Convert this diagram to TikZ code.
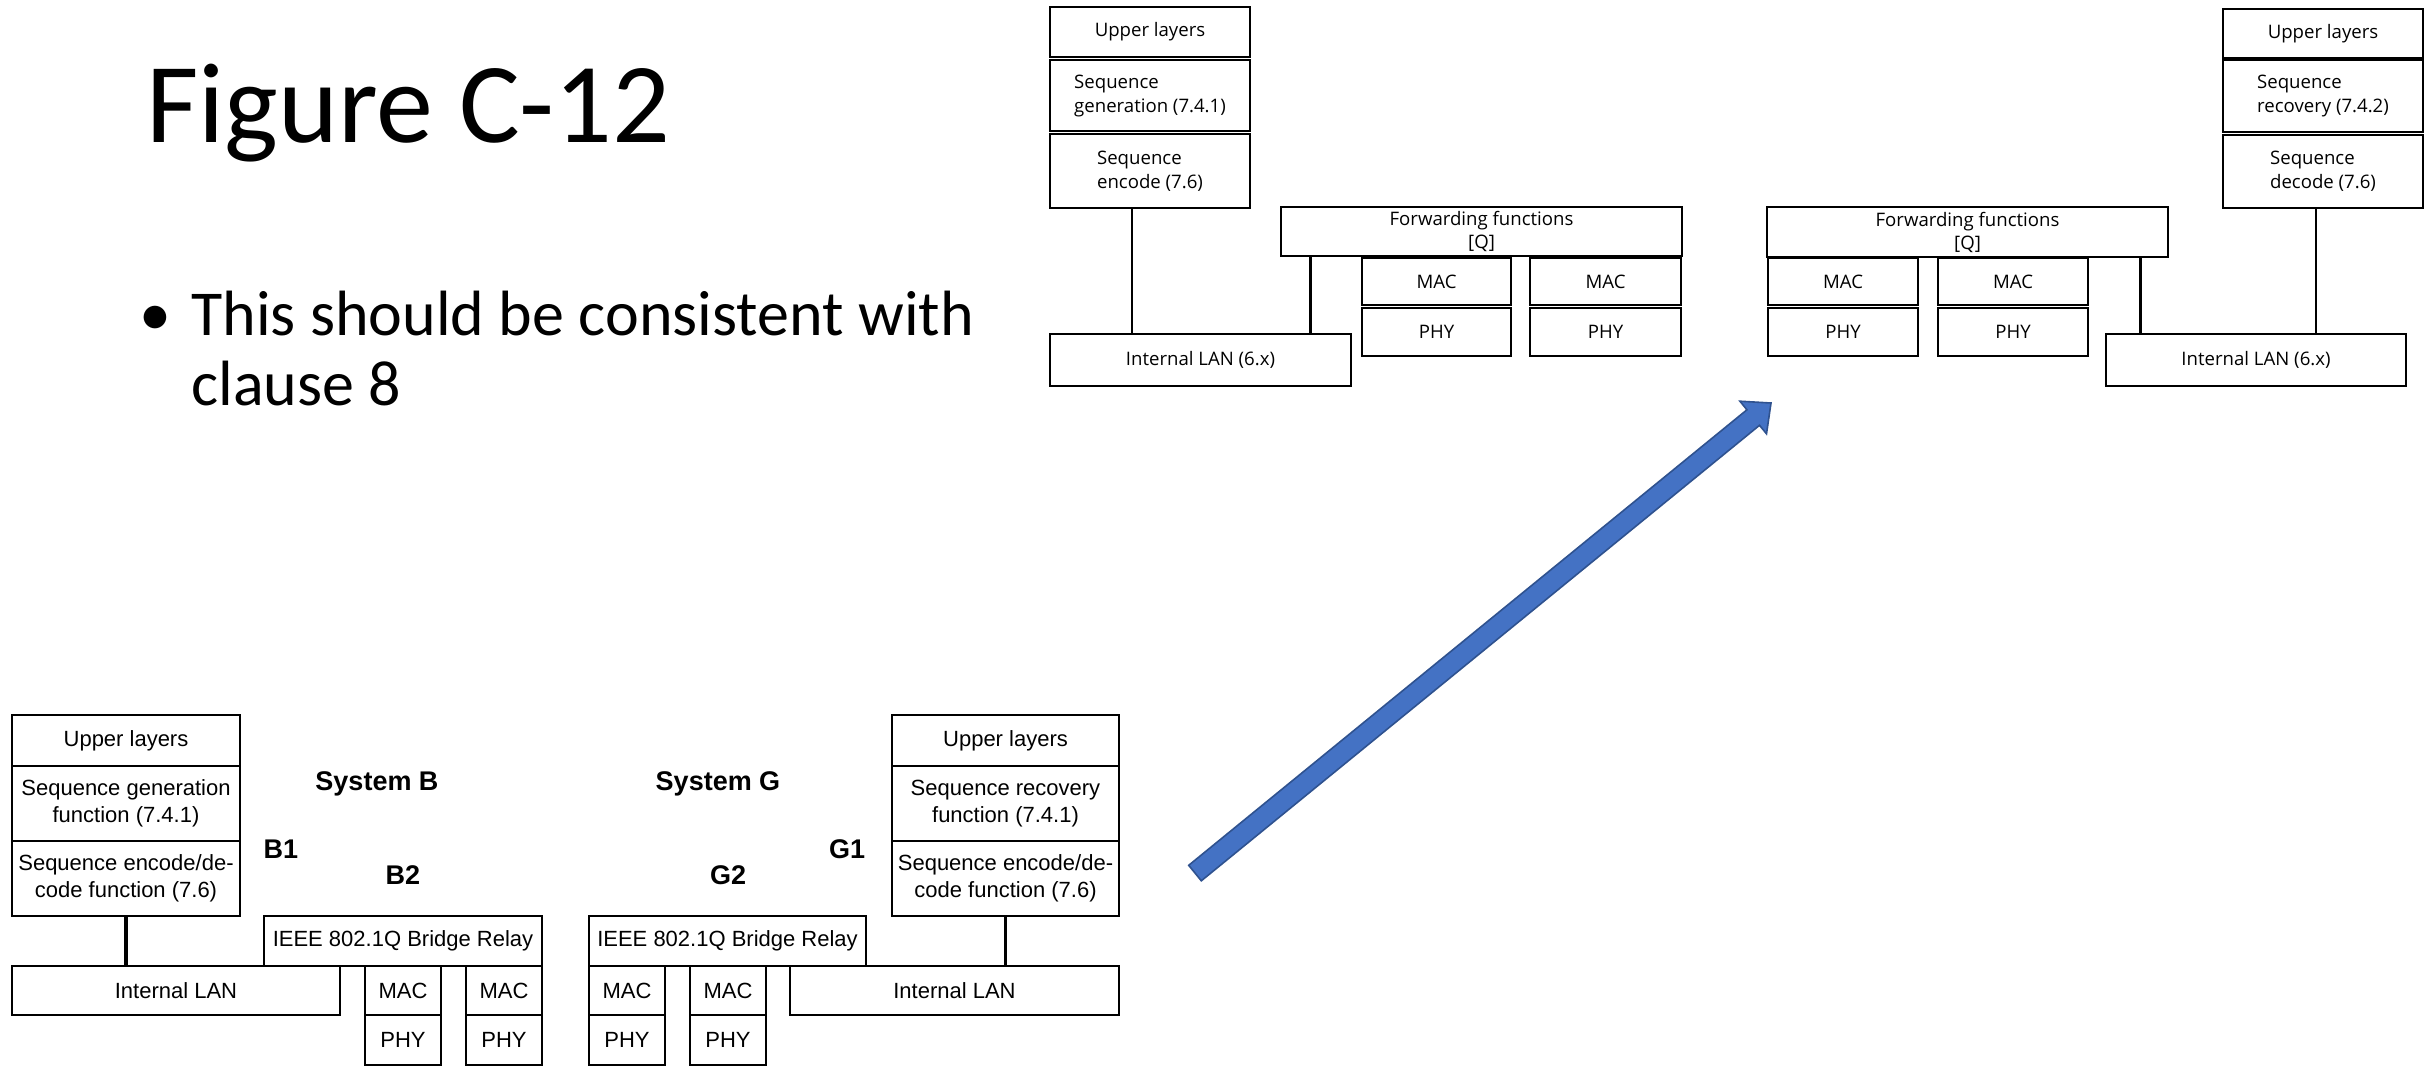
\documentclass[tikz,border=0pt]{standalone}
\usepackage{fontspec}
\setmainfont{Carlito}
\newfontfamily\slidefont{Carlito}
\newfontfamily\stdfont{Open Sans}
\newfontfamily\arialfont{Liberation Sans}
\definecolor{arrowfill}{HTML}{4472C4}
\definecolor{arrowedge}{HTML}{2F528F}

% \pbox{style}{name}{x1}{y1}{x2}{y2}{text}: a box spanning two corners (units of half a point)
\newcommand\pbox[7]{\node[inner sep=0pt, #1,
    minimum width={(#5-#3)*0.5pt}, minimum height={(#6-#4)*0.5pt}]
    (#2) at ({(#3+#5)/2},{(#4+#6)/2}) {#7};}

\begin{document}
\begin{tikzpicture}[x=0.5pt, y=-0.5pt,
  stdbox/.style={draw, line width=1.3pt, align=center,
    font=\stdfont\fontsize{9.3}{12}\selectfont},
  stdleft/.style={stdbox, align=left},
  stdline/.style={line width=1.3pt},
  relbox/.style={draw, line width=0.6pt, align=center,
    font=\arialfont\fontsize{11}{13.4}\selectfont},
  relline/.style={line width=1.6pt},
  syslabel/.style={font=\arialfont\bfseries\fontsize{13.5}{16}\selectfont,
    inner sep=0pt, anchor=base},
  slidetext/.style={inner sep=0pt, anchor=base west, align=left},
]
\useasboundingbox (0,0) rectangle (2430,1066);

% ---- slide heading and bullet
\node[slidetext, font=\slidefont\fontsize{57}{60}\selectfont] (title) at (146,142) {Figure C-12};
\node[inner sep=0pt, anchor=base, font=\slidefont\fontsize{32}{35}\selectfont] (dot) at (155,335) {\textbullet};
% the base of a two-line node is the baseline of its last line
\node[slidetext, font=\slidefont\fontsize{32}{35}\selectfont] (point) at (191,405)
  {This should be consistent with\\clause 8};

% ---- sending end station (top)
\pbox{stdbox}{upA}{1050}{7}{1250}{57}{Upper layers}
\pbox{stdleft}{genA}{1050}{60}{1250}{131}{Sequence\\generation (7.4.1)}
\pbox{stdleft}{encA}{1050}{134}{1250}{208}{Sequence\\encode (7.6)}
\pbox{stdbox}{lanA}{1050}{334}{1351}{386}{Internal LAN (6.x)}
\pbox{stdbox, font=\stdfont\fontsize{9.3}{11.5}\selectfont}{fwdA}{1281}{207}{1682}{256}{Forwarding functions\\{[Q]}}
\pbox{stdbox}{macA1}{1362}{258}{1511}{305}{MAC}
\pbox{stdbox}{phyA1}{1362}{308}{1511}{356}{PHY}
\pbox{stdbox}{macA2}{1530}{258}{1681}{305}{MAC}
\pbox{stdbox}{phyA2}{1530}{308}{1681}{356}{PHY}
\draw[stdline] ([xshift=-9pt]encA.south) -- ([xshift=-9pt]encA.south |- lanA.north);
\draw[stdline] ([xshift=15.5pt]fwdA.south west) -- ([xshift=15.5pt]fwdA.south west |- lanA.north);

% ---- receiving end station (top)
\pbox{stdbox}{upB}{2223}{9}{2423}{58}{Upper layers}
\pbox{stdleft}{recB}{2223}{60}{2423}{132}{Sequence\\recovery (7.4.2)}
\pbox{stdleft}{decB}{2223}{135}{2423}{208}{Sequence\\decode (7.6)}
\pbox{stdbox}{lanB}{2106}{334}{2406}{386}{Internal LAN (6.x)}
\pbox{stdbox, font=\stdfont\fontsize{9.3}{11.5}\selectfont}{fwdB}{1767}{207}{2168}{257}{Forwarding functions\\{[Q]}}
\pbox{stdbox}{macB1}{1768}{258}{1918}{305}{MAC}
\pbox{stdbox}{phyB1}{1768}{308}{1918}{356}{PHY}
\pbox{stdbox}{macB2}{1938}{258}{2088}{305}{MAC}
\pbox{stdbox}{phyB2}{1938}{308}{2088}{356}{PHY}
\draw[stdline] ([xshift=-3.5pt]decB.south) -- ([xshift=-3.5pt]decB.south |- lanB.north);
\draw[stdline] ([xshift=-14.5pt]fwdB.south east) -- ([xshift=-14.5pt]fwdB.south east |- lanB.north);

% ---- System B (bottom left)
\pbox{relbox}{upC}{12}{715}{240}{766}{Upper layers}
\pbox{relbox}{genC}{12}{766}{240}{841}{Sequence generation\\function (7.4.1)}
\pbox{relbox}{encC}{12}{841}{240}{916}{Sequence encode/de-\\code function (7.6)}
\pbox{relbox}{lanC}{12}{966}{340}{1015}{Internal LAN}
\pbox{relbox}{relayC}{264}{916}{542}{966}{IEEE 802.1Q Bridge Relay}
\pbox{relbox}{macC1}{365}{966}{441}{1015}{MAC}
\pbox{relbox}{phyC1}{365}{1015}{441}{1065}{PHY}
\pbox{relbox}{macC2}{466}{966}{542}{1015}{MAC}
\pbox{relbox}{phyC2}{466}{1015}{542}{1065}{PHY}
\draw[relline] (encC.south) -- (encC.south |- lanC.north);
\node[syslabel] (sysB) at (377,790) {System B};
\node[syslabel] (b1) at (281,858) {B1};
\node[syslabel] (b2) at (403,884) {B2};

% ---- System G (bottom middle)
\pbox{relbox}{upD}{892}{715}{1119}{766}{Upper layers}
\pbox{relbox}{recD}{892}{766}{1119}{841}{Sequence recovery\\function (7.4.1)}
\pbox{relbox}{encD}{892}{841}{1119}{916}{Sequence encode/de-\\code function (7.6)}
\pbox{relbox}{lanD}{790}{966}{1119}{1015}{Internal LAN}
\pbox{relbox}{relayD}{589}{916}{866}{966}{IEEE 802.1Q Bridge Relay}
\pbox{relbox}{macD1}{589}{966}{665}{1015}{MAC}
\pbox{relbox}{phyD1}{589}{1015}{665}{1065}{PHY}
\pbox{relbox}{macD2}{690}{966}{766}{1015}{MAC}
\pbox{relbox}{phyD2}{690}{1015}{766}{1065}{PHY}
\draw[relline] (encD.south) -- (encD.south |- lanD.north);
\node[syslabel] (sysG) at (718,790) {System G};
\node[syslabel] (g1) at (847,858) {G1};
\node[syslabel] (g2) at (728,884) {G2};

% ---- block arrow
\filldraw[fill=arrowfill, draw=arrowedge, line width=0.8pt, line join=miter]
  (1201.3,880.8) -- (1759.5,425.3) -- (1766.5,433.8) -- (1771,403)
  -- (1739.9,401.2) -- (1746.9,409.8) -- (1188.7,865.3) -- cycle;
\end{tikzpicture}
\end{document}
